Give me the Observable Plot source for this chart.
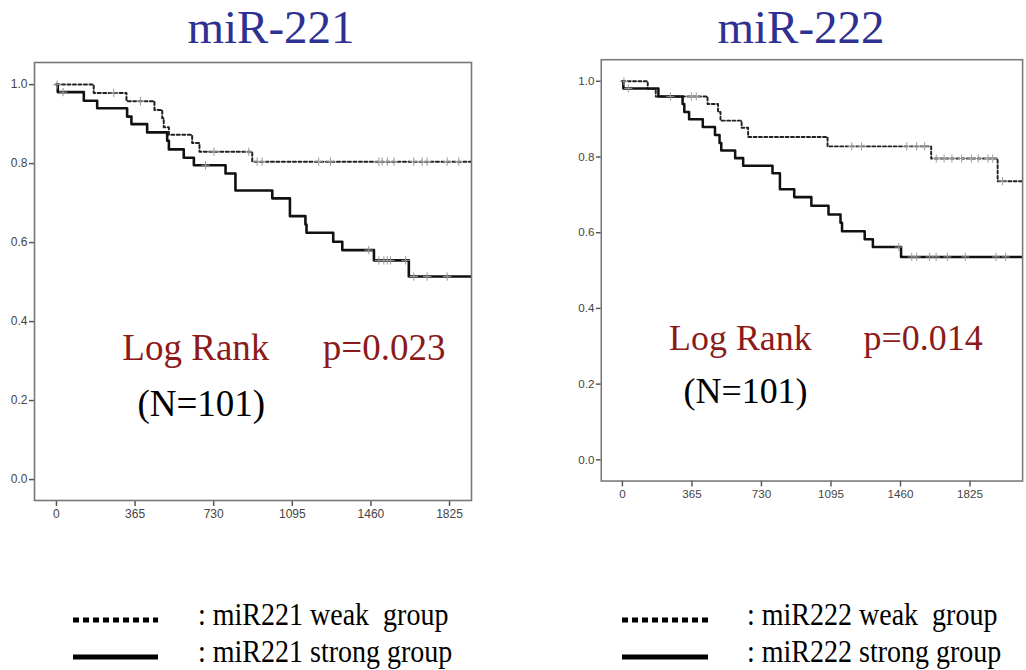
<!DOCTYPE html>
<html>
<head>
<meta charset="utf-8">
<script src="https://cdn.jsdelivr.net/npm/d3@7"></script>
<script src="https://cdn.jsdelivr.net/npm/@observablehq/plot@0.6"></script>
<style>
  html, body { margin: 0; padding: 0; background: #fff; }
  body { width: 1026px; height: 670px; overflow: hidden; position: relative; }
  .panel { position: absolute; top: 0; }
  .title { position: absolute; font-family: "Liberation Serif", "Times New Roman", serif; font-size: 47px; line-height: 47px; color: #2e3192; white-space: nowrap; transform: translateX(-50%); }
  .leg { position: absolute; font-family: "Liberation Serif", "Times New Roman", serif; font-size: 32px; line-height: 32px; color: #000; white-space: pre; transform-origin: 0 0; transform: scaleX(0.875); }
  .sw { position: absolute; }
  .ann text { font-family: "Liberation Serif", "Times New Roman", serif; }
</style>
</head>
<body>
<div id="left" class="panel" style="left:0px"></div>
<div id="right" class="panel" style="left:560px"></div>
<div class="title" style="left:271px; top:4px">miR-221</div>
<div class="title" style="left:801px; top:4px">miR-222</div>

<svg class="sw" style="left:70px; top:612px" width="95" height="55">
  <line x1="3" x2="88" y1="8" y2="8" stroke="#000" stroke-width="5" stroke-dasharray="6 4"></line>
  <line x1="3" x2="88" y1="45" y2="45" stroke="#000" stroke-width="5"></line>
</svg>
<div class="leg" style="left:198px; top:598px">: miR221 weak  group</div>
<div class="leg" style="left:198px; top:635px">: miR221 strong group</div>

<svg class="sw" style="left:619px; top:612px" width="95" height="55">
  <line x1="3" x2="89" y1="8" y2="8" stroke="#000" stroke-width="5" stroke-dasharray="6 4"></line>
  <line x1="3" x2="89" y1="45" y2="45" stroke="#000" stroke-width="5"></line>
</svg>
<div class="leg" style="left:747px; top:598px">: miR222 weak  group</div>
<div class="leg" style="left:747px; top:635px">: miR222 strong group</div>

<script>
// ---- Data ----
const xTicks = [0, 365, 730, 1095, 1460, 1825];
const yTicks = [0, 0.2, 0.4, 0.6, 0.8, 1.0];

// miR-221 strong group (solid)
const m221StrongTime = [0, 6, 127, 189, 328, 348, 421, 514, 522, 591, 638, 785, 831, 1002, 1084, 1156, 1161, 1285, 1327, 1474, 1636, 1927];
const m221StrongSurv = [1, 0.981, 0.959, 0.94, 0.919, 0.90, 0.879, 0.858, 0.836, 0.815, 0.796, 0.775, 0.732, 0.712, 0.667, 0.646, 0.625, 0.602, 0.581, 0.555, 0.514, 0.514];
const m221StrongCens = [31, 692, 1450, 1497, 1520, 1536, 1551, 1621, 1659, 1721, 1814];

// miR-221 weak group (dotted)
const m221WeakTime = [0, 173, 325, 455, 491, 498, 522, 630, 664, 909, 1927];
const m221WeakSurv = [1, 0.979, 0.958, 0.936, 0.915, 0.892, 0.873, 0.852, 0.83, 0.805, 0.805];
const m221WeakCens = [3, 266, 390, 731, 893, 932, 955, 1218, 1272, 1497, 1512, 1536, 1567, 1659, 1698, 1721, 1814, 1868];

// miR-222 strong group (solid)
const m222StrongTime = [0, 5, 189, 316, 325, 350, 422, 486, 510, 519, 592, 634, 788, 827, 902, 992, 1082, 1145, 1153, 1272, 1315, 1463, 2101];
const m222StrongSurv = [1, 0.981, 0.96, 0.94, 0.919, 0.90, 0.879, 0.858, 0.837, 0.817, 0.797, 0.777, 0.757, 0.715, 0.694, 0.671, 0.648, 0.626, 0.604, 0.583, 0.562, 0.536, 0.536];
const m222StrongCens = [31, 1451, 1519, 1545, 1613, 1647, 1706, 1800, 1961, 2012];

// miR-222 weak group (dotted)
const m222WeakTime = [0, 133, 175, 447, 502, 515, 626, 660, 1077, 1621, 1970, 2101];
const m222WeakSurv = [1, 0.98, 0.96, 0.94, 0.919, 0.896, 0.877, 0.853, 0.828, 0.796, 0.736, 0.736];
const m222WeakCens = [8, 252, 362, 388, 1204, 1255, 1493, 1545, 1587, 1648, 1689, 1730, 1781, 1832, 1868, 1919, 1944, 1995];

// Annotations (start-anchored and end-anchored texts, in data units)
const annLeftStart = [
  {x: 306, y: 0.332, text: "Log Rank", color: "#8b1a1a"},
  {x: 376, y: 0.192, text: "(N=101)", color: "#000"}
];
const annLeftEnd = [
  {x: 1806, y: 0.332, text: "p=0.023", color: "#8b1a1a"}
];
const annRightStart = [
  {x: 245, y: 0.32, text: "Log Rank", color: "#8b1a1a"},
  {x: 321, y: 0.18, text: "(N=101)", color: "#000"}
];
const annRightEnd = [
  {x: 1891, y: 0.32, text: "p=0.014", color: "#8b1a1a"}
];

// ---- helpers ----
const toPts = (t, s) => t.map((d, i) => ({time: d, surv: s[i]}));
const stepAt = (t, s, v) => s[Math.max(0, d3.bisectRight(t, v) - 1)];
const censPts = (c, t, s) => c.map(v => ({time: v, surv: stepAt(t, s, v)}));

function km(opts) {
  const strong = toPts(opts.sT, opts.sS);
  const weak = toPts(opts.wT, opts.wS);
  const sc = censPts(opts.sC, opts.sT, opts.sS);
  const wc = censPts(opts.wC, opts.wT, opts.wS);
  const textOpts = {x: "x", y: "y", text: "text", fill: "color", className: "ann",
    fontFamily: "Liberation Serif", fontSize: 37, lineAnchor: "middle"};
  return Plot.plot({
    width: opts.width,
    height: opts.height,
    marginLeft: opts.ml, marginRight: opts.mr, marginTop: opts.mt, marginBottom: opts.mb,
    style: {fontFamily: "'Liberation Sans', Arial, sans-serif", fontSize: "12px", color: "#444", background: "#fff"},
    x: {domain: opts.xd, axis: null},
    y: {domain: opts.yd, axis: null},
    marks: [
      Plot.axisX({ticks: xTicks, tickFormat: d => String(d), tickSize: 6, tickPadding: 3, label: null, stroke: "#555", strokeWidth: 1.5, fill: "#444", fontSize: 12}),
      Plot.axisY({ticks: yTicks, tickFormat: d3.format(".1f"), tickSize: 5, tickPadding: 2, label: null, stroke: "#555", strokeWidth: 1.5, fill: "#444", fontSize: 12}),
      Plot.line(weak, {x: "time", y: "surv", curve: "step-after", stroke: "#222", strokeWidth: 2, strokeDasharray: "3 2.5", clip: true}),
      Plot.line(strong, {x: "time", y: "surv", curve: "step-after", stroke: "#111", strokeWidth: 2.6, clip: true}),
      Plot.dot(wc, {x: "time", y: "surv", symbol: "plus", r: 2.8, stroke: "#999", strokeWidth: 1, clip: true}),
      Plot.dot(sc, {x: "time", y: "surv", symbol: "plus", r: 2.8, stroke: "#999", strokeWidth: 1, clip: true}),
      Plot.text(opts.annStart, {...textOpts, textAnchor: "start"}),
      Plot.text(opts.annEnd, {...textOpts, textAnchor: "end"}),
      Plot.frame({stroke: "#777", strokeWidth: 1.6})
    ]
  });
}

document.getElementById("left").appendChild(km({
  width: 480, height: 530, ml: 34, mr: 9, mt: 62, mb: 30,
  xd: [-102, 1927], yd: [-0.053, 1.056],
  sT: m221StrongTime, sS: m221StrongSurv, sC: m221StrongCens,
  wT: m221WeakTime, wS: m221WeakSurv, wC: m221WeakCens,
  annStart: annLeftStart, annEnd: annLeftEnd
}));

document.getElementById("right").appendChild(km({
  width: 480, height: 530, ml: 42, mr: 4, mt: 61, mb: 35,
  xd: [-111, 2101], yd: [-0.056, 1.057],
  sT: m222StrongTime, sS: m222StrongSurv, sC: m222StrongCens,
  wT: m222WeakTime, wS: m222WeakSurv, wC: m222WeakCens,
  annStart: annRightStart, annEnd: annRightEnd
}));
</script>
</body>
</html>
